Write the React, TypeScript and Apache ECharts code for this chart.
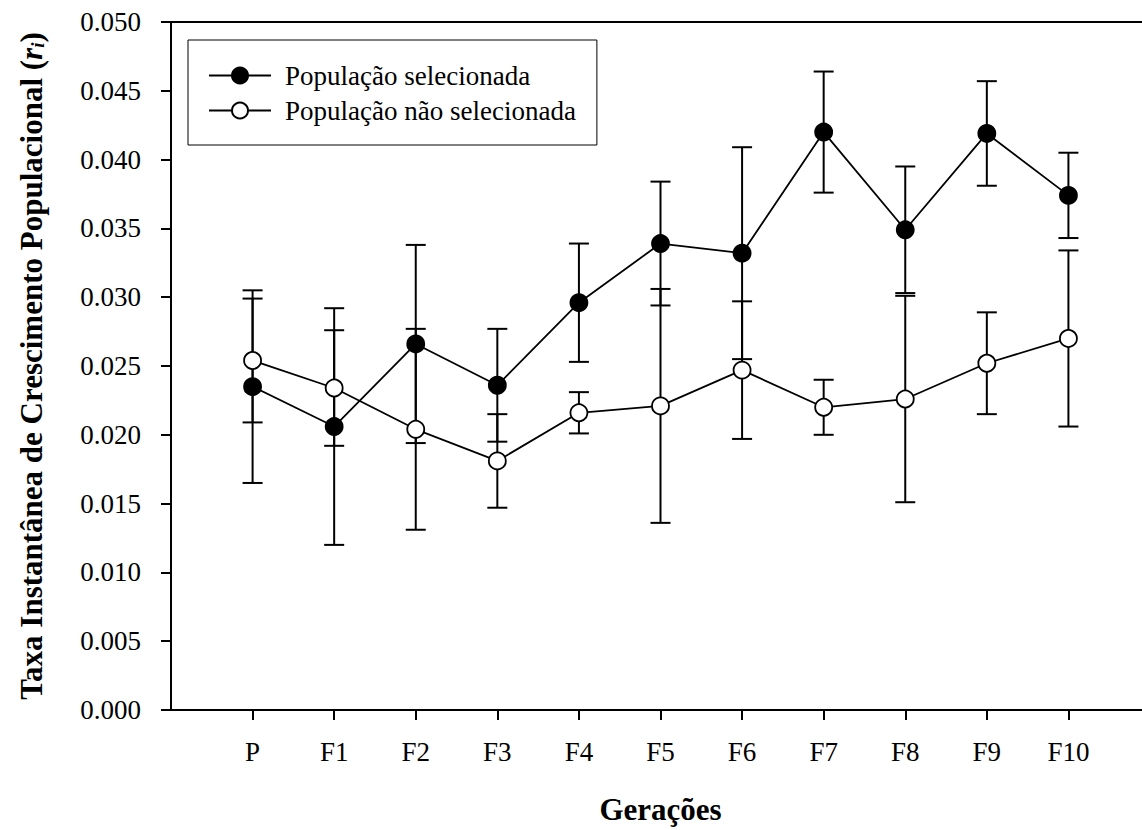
import React, { useEffect, useRef } from "react";
import * as echarts from "echarts";

const categories = ["P", "F1", "F2", "F3", "F4", "F5", "F6", "F7", "F8", "F9", "F10"];
const selectedMean = [0.0235, 0.0206, 0.0266, 0.0236, 0.0296, 0.0339, 0.0332, 0.0420, 0.0349, 0.0419, 0.0374];
const selectedErr = [0.0070, 0.0086, 0.0072, 0.0041, 0.0043, 0.0045, 0.0077, 0.0044, 0.0046, 0.0038, 0.0031];
const nonSelectedMean = [0.0254, 0.0234, 0.0204, 0.0181, 0.0216, 0.0221, 0.0247, 0.0220, 0.0226, 0.0252, 0.0270];
const nonSelectedErr = [0.0045, 0.0042, 0.0073, 0.0034, 0.0015, 0.0085, 0.0050, 0.0020, 0.0075, 0.0037, 0.0064];
const yTicks = [0, 0.005, 0.01, 0.015, 0.02, 0.025, 0.03, 0.035, 0.04, 0.045, 0.05];

const SERIF = "'Liberation Serif', 'Times New Roman', serif";

function errorData(mean: number[], err: number[]) {
  return mean.map((m, i) => [i + 1, m - err[i], m + err[i]]);
}

function renderErr(params: any, api: any) {
  const x = api.value(0);
  const lo = api.coord([x, api.value(1)]);
  const hi = api.coord([x, api.value(2)]);
  const hw = 10;
  const st = { stroke: "#000", lineWidth: 2 };
  return {
    type: "group",
    children: [
      { type: "line", shape: { x1: hi[0], y1: hi[1], x2: lo[0], y2: lo[1] }, style: st },
      { type: "line", shape: { x1: hi[0] - hw, y1: hi[1], x2: hi[0] + hw, y2: hi[1] }, style: st },
      { type: "line", shape: { x1: lo[0] - hw, y1: lo[1], x2: lo[0] + hw, y2: lo[1] }, style: st },
    ],
  };
}

export default function App() {
  const ref = useRef<HTMLDivElement>(null);
  useEffect(() => {
    if (!ref.current) return;
    const chart = echarts.init(ref.current, null, { renderer: "svg" });
    const option: any = {
      animation: false,
      backgroundColor: "#fff",
      grid: {
        left: 171,
        right: 0,
        top: 22,
        bottom: 120,
        show: true,
        borderColor: "#000",
        borderWidth: 2,
      },
      legend: {
        data: ["População selecionada", "População não selecionada"],
        orient: "vertical",
        left: 188,
        top: 40,
        padding: [22, 21, 21, 20],
        itemWidth: 62,
        itemHeight: 20,
        itemGap: 8,
        borderColor: "#000",
        borderWidth: 1,
        textStyle: {
          fontFamily: SERIF,
          fontSize: 27,
          lineHeight: 27,
          color: "#000",
          padding: [0, 0, 0, 9],
        },
      },
      xAxis: {
        type: "value",
        min: 0,
        max: 12,
        interval: 1,
        name: "Gerações",
        nameLocation: "middle",
        nameGap: 84,
        nameTextStyle: { fontFamily: SERIF, fontSize: 31, fontWeight: "bold", color: "#000" },
        axisLine: { lineStyle: { color: "#000", width: 2 } },
        axisTick: {
          show: true,
          length: 10,
          lineStyle: { color: "#000", width: 2 },
          customValues: categories.map((_, i) => i + 1),
        },
        axisLabel: {
          fontFamily: SERIF,
          fontSize: 27,
          color: "#000",
          margin: 28,
          customValues: categories.map((_, i) => i + 1),
          formatter: (v: number) => categories[Math.round(v) - 1] ?? "",
        },
        splitLine: { show: false },
      },
      yAxis: {
        type: "value",
        min: 0,
        max: 0.05,
        interval: 0.005,
        name: "{a|Taxa Instantânea de Crescimento Populacional (}{b|r}{c|i}{a|)}",
        nameLocation: "middle",
        nameGap: 124,
        nameRotate: 90,
        nameTextStyle: {
          rich: {
            a: { fontFamily: SERIF, fontSize: 31, fontWeight: "bold", color: "#000" },
            b: { fontFamily: SERIF, fontSize: 31, fontWeight: "bold", fontStyle: "italic", color: "#000" },
            c: { fontFamily: SERIF, fontSize: 19, fontWeight: "bold", fontStyle: "italic", color: "#000", verticalAlign: "bottom", padding: [13, 0, 0, 0] },
          },
        },
        axisLine: { show: true, lineStyle: { color: "#000", width: 2 } },
        axisTick: { show: true, length: 10, lineStyle: { color: "#000", width: 2 } },
        axisLabel: {
          fontFamily: SERIF,
          fontSize: 27,
          color: "#000",
          margin: 30,
          formatter: (v: number) => {
            const t = yTicks.find((y) => Math.abs(y - v) < 1e-9);
            return (t ?? v).toFixed(3);
          },
        },
        splitLine: { show: false },
      },
      series: [
        {
          name: "errNon",
          type: "custom",
          renderItem: renderErr,
          encode: { x: 0, y: [1, 2] },
          data: errorData(nonSelectedMean, nonSelectedErr),
          z: 1,
          silent: true,
        },
        {
          name: "errSel",
          type: "custom",
          renderItem: renderErr,
          encode: { x: 0, y: [1, 2] },
          data: errorData(selectedMean, selectedErr),
          z: 1,
          silent: true,
        },
        {
          name: "População não selecionada",
          type: "line",
          data: nonSelectedMean.map((m, i) => [i + 1, m]),
          symbol: "circle",
          symbolSize: 17,
          showAllSymbol: true,
          lineStyle: { color: "#000", width: 1.8 },
          itemStyle: { color: "#fff", borderColor: "#000", borderWidth: 1.8 },
          z: 3,
        },
        {
          name: "População selecionada",
          type: "line",
          data: selectedMean.map((m, i) => [i + 1, m]),
          symbol: "circle",
          symbolSize: 17,
          showAllSymbol: true,
          lineStyle: { color: "#000", width: 1.8 },
          itemStyle: { color: "#000", borderColor: "#000", borderWidth: 1.8 },
          z: 4,
        },
      ],
    };
    chart.setOption(option);
    return () => chart.dispose();
  }, []);
  return (
    <div style={{ position: "absolute", left: 0, top: 0, width: 1142, height: 830, overflow: "hidden", background: "#fff" }}>
      <div ref={ref} style={{ width: 1150, height: 830 }} />
    </div>
  );
}
